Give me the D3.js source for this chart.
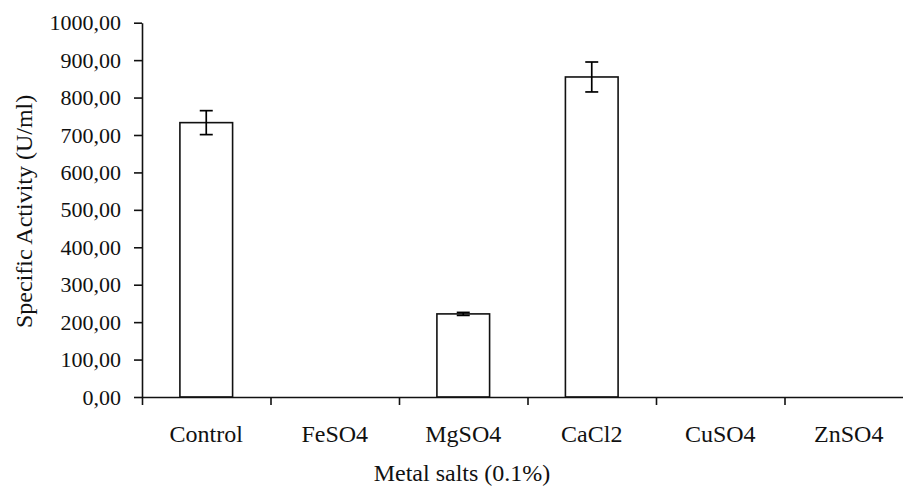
<!DOCTYPE html>
<html>
<head>
<meta charset="utf-8">
<script src="https://cdn.jsdelivr.net/npm/d3@7"></script>
<style>
  body { margin: 0; background: #fff; }
  svg { display: block; font-family: "Liberation Serif", "Times New Roman", serif; }
</style>
</head>
<body>
<svg id="canvas" width="903" height="487"></svg>
<script>
// data
let categories = ['Control', 'FeSO4', 'MgSO4', 'CaCl2', 'CuSO4', 'ZnSO4']
let activity = [733, 0, 222, 855, 0, 0]
let errors = [32, 0, 4, 40, 0, 0]
let yTicks = [0, 100, 200, 300, 400, 500, 600, 700, 800, 900, 1000]
let xTitle = 'Metal salts (0.1%)'
let yTitle = 'Specific Activity (U/ml)'

let canvas = d3.select('#canvas')

let plotLeft = 142
let step = 128.5
let plotBottom = 397
let plotTop = 22.7

// band scale for the bars, linear one for the boundary ticks
let x = d3.scaleBand()
    .domain(categories)
    .range([plotLeft, plotLeft + step * categories.length])
    .paddingInner(0.59)
    .paddingOuter(0.295)

let xEdges = d3.scaleLinear()
    .domain([0, categories.length])
    .range([plotLeft, plotLeft + step * categories.length])

let y = d3.scaleLinear()
    .domain([0, 1000])
    .range([plotBottom, plotTop])

let rows = categories.map((c, i) => {
    return { name: c, value: activity[i], err: errors[i] }
})

// bars
canvas.append('g')
    .selectAll('rect')
    .data(rows.filter(d => d.value > 0))
    .enter()
    .append('rect')
    .attr('x', d => x(d.name))
    .attr('y', d => y(d.value))
    .attr('width', x.bandwidth())
    .attr('height', d => y(0) - y(d.value))
    .attr('fill', '#fff')
    .attr('stroke', '#111')
    .attr('stroke-width', 1.6)

// error bars
let capHalf = 6.5
let errs = canvas.append('g')
    .attr('stroke', '#000')
    .attr('stroke-width', 1.7)
    .selectAll('g')
    .data(rows.filter(d => d.value > 0))
    .enter()
    .append('g')

errs.append('line')
    .attr('x1', d => x(d.name) + x.bandwidth() / 2)
    .attr('x2', d => x(d.name) + x.bandwidth() / 2)
    .attr('y1', d => y(d.value + d.err))
    .attr('y2', d => y(d.value - d.err))

errs.append('line')
    .attr('x1', d => x(d.name) + x.bandwidth() / 2 - capHalf)
    .attr('x2', d => x(d.name) + x.bandwidth() / 2 + capHalf)
    .attr('y1', d => y(d.value + d.err))
    .attr('y2', d => y(d.value + d.err))

errs.append('line')
    .attr('x1', d => x(d.name) + x.bandwidth() / 2 - capHalf)
    .attr('x2', d => x(d.name) + x.bandwidth() / 2 + capHalf)
    .attr('y1', d => y(d.value - d.err))
    .attr('y2', d => y(d.value - d.err))

// y axis
let yAxis = canvas.append('g')
    .attr('transform', 'translate(' + plotLeft + ',0)')
    .call(d3.axisLeft(y)
        .tickValues(yTicks)
        .tickSize(8)
        .tickSizeOuter(0)
        .tickPadding(13)
        .tickFormat(d => d.toFixed(2).replace('.', ',')))

yAxis.selectAll('text')
    .attr('font-size', 22)
    .attr('font-family', '"Liberation Serif", serif')
    .attr('fill', '#111')
yAxis.selectAll('line, path').attr('stroke', '#111').attr('stroke-width', 1.6)

// x axis with ticks between the categories
let xAxis = canvas.append('g')
    .attr('transform', 'translate(0,' + plotBottom + ')')
    .call(d3.axisBottom(xEdges)
        .tickValues(d3.range(categories.length + 1))
        .tickSize(8)
        .tickSizeOuter(0)
        .tickFormat(''))
xAxis.selectAll('line, path').attr('stroke', '#111').attr('stroke-width', 1.6)

// category labels
canvas.append('g')
    .selectAll('text')
    .data(categories)
    .enter()
    .append('text')
    .attr('x', d => x(d) + x.bandwidth() / 2)
    .attr('y', 442)
    .attr('text-anchor', 'middle')
    .attr('font-size', 24)
    .attr('fill', '#111')
    .text(d => d)

// axis titles
canvas.append('text')
    .attr('x', 462)
    .attr('y', 481)
    .attr('text-anchor', 'middle')
    .attr('font-size', 24)
    .attr('fill', '#111')
    .text(xTitle)

canvas.append('text')
    .attr('transform', 'translate(32,328) rotate(-90)')
    .attr('text-anchor', 'start')
    .attr('font-size', 24)
    .attr('fill', '#111')
    .text(yTitle)
</script>
</body>
</html>
